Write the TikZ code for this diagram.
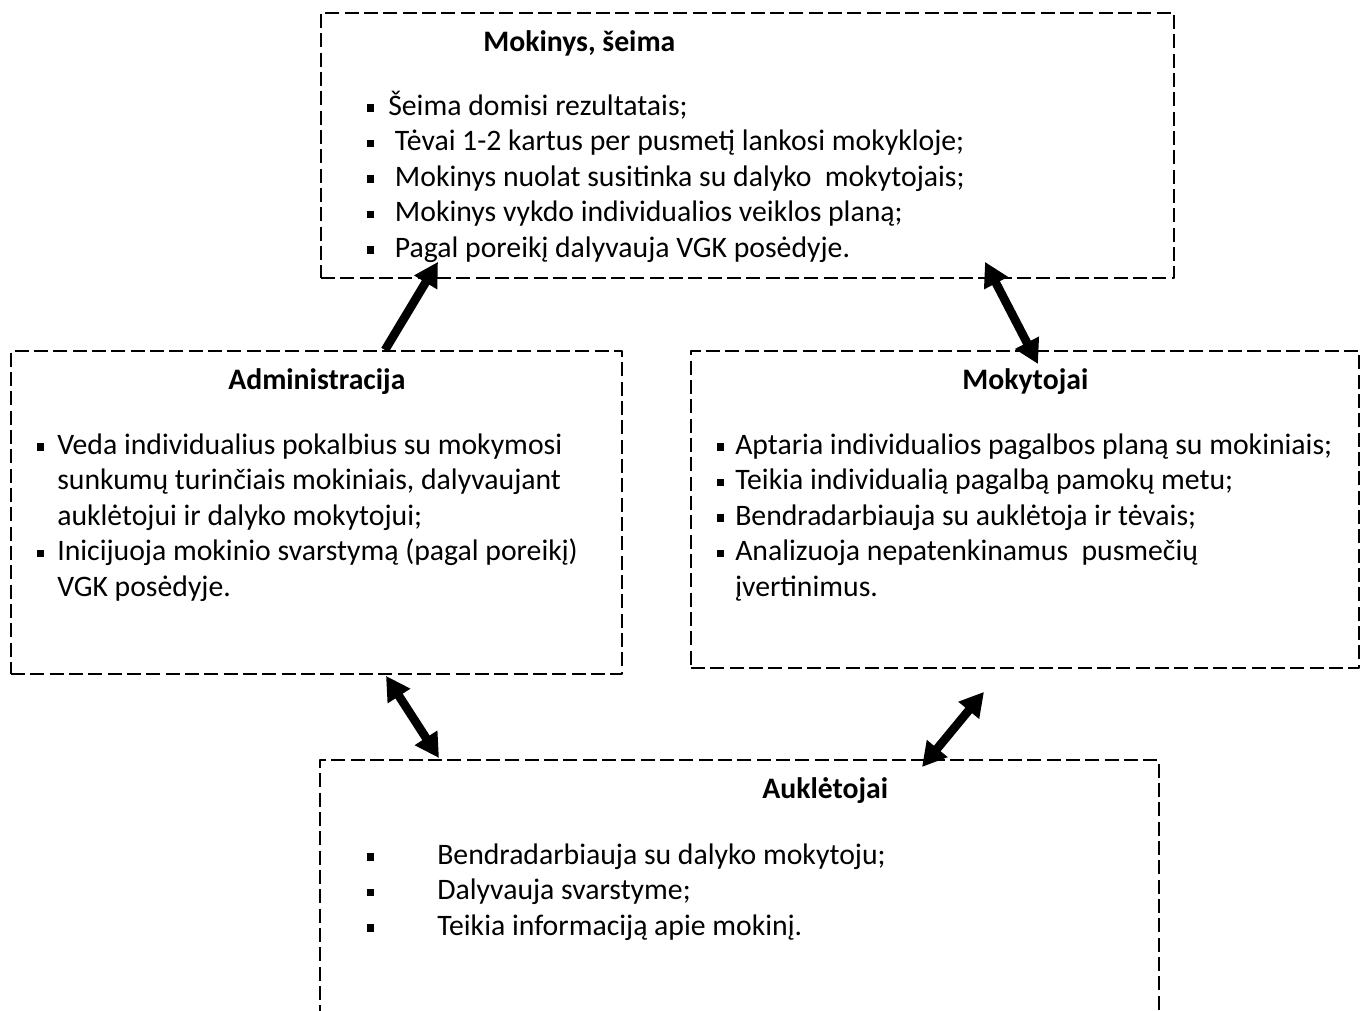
\documentclass[tikz,border=0pt]{standalone}
\usepackage{fontspec}
\setmainfont{Carlito}
\usetikzlibrary{arrows.meta,calc}
\newlength\pxu \setlength\pxu{0.75pt}
\newcommand\sqb{\rule[0.11em]{0.25em}{0.25em}}
\newcommand\bul[1]{\llap{\sqb\hspace{#1\pxu}}}
\begin{document}
\begin{tikzpicture}[x=0.75pt,y=-0.75pt,>={Triangle[length=18pt,width=19pt]}, line join=round,
    box/.style={draw, dash pattern=on 10.5pt off 4pt, line width=1.4pt, anchor=north west, inner sep=0pt},
    title/.style={font=\fontsize{22.3}{26.6}\selectfont\bfseries, anchor=mid west, inner sep=0pt},
    item/.style={font=\fontsize{22.3}{26.6}\selectfont, anchor=mid west, inner sep=0pt},
    link/.style={line width=6.5pt}]
    \useasboundingbox (0,0) rectangle (1365,1011);
    % langeliai
    \node[box, minimum width=853\pxu, minimum height=265\pxu] (mok) at (320,12) {};
    \node[box, minimum width=611\pxu, minimum height=323\pxu] (adm) at (10,350) {};
    \node[box, minimum width=668\pxu, minimum height=317\pxu] (mkt) at (690,350) {};
    \node[box, minimum width=839\pxu, minimum height=300\pxu] (auk) at (319,759) {};
    % antraštės
    \node[title] (mokT) at (483,48) {Mokinys, šeima};
    \node[title] (admT) at (228,386) {Administracija};
    \node[title] (mktT) at (962,386) {Mokytojai};
    \node[title] (aukT) at (762,795) {Auklėtojai};
    % sąrašai
    \foreach \t [count=\i] in {{\bul{14}Šeima domisi rezultatais;},
        {\bul{14}\ Tėvai 1-2 kartus per pusmetį lankosi mokykloje;},
        {\bul{14}\ Mokinys nuolat susitinka su dalyko\ \ mokytojais;},
        {\bul{14}\ Mokinys vykdo individualios veiklos planą;},
        {\bul{14}\ Pagal poreikį dalyvauja VGK posėdyje.}}
        \node[item] (mok\i) at (388,{112+35.5*(\i-1)}) {\t};
    \foreach \t [count=\i] in {{\bul{13}Veda individualius pokalbius su mokymosi},
        {sunkumų turinčiais mokiniais, dalyvaujant},
        {auklėtojui ir dalyko mokytojui;},
        {\bul{13}Inicijuoja mokinio svarstymą (pagal poreikį)},
        {VGK posėdyje.}}
        \node[item] (adm\i) at (57,{451+35.5*(\i-1)}) {\t};
    \foreach \t [count=\i] in {{\bul{11}Aptaria individualios pagalbos planą su mokiniais;},
        {\bul{11}Teikia individualią pagalbą pamokų metu;},
        {\bul{11}Bendradarbiauja su auklėtoja ir tėvais;},
        {\bul{11}Analizuoja nepatenkinamus\ \ pusmečių},
        {įvertinimus.}}
        \node[item] (mkt\i) at (735,{451+35.5*(\i-1)}) {\t};
    \foreach \t [count=\i] in {{\bul{63}Bendradarbiauja su dalyko mokytoju;},
        {\bul{63}Dalyvauja svarstyme;},
        {\bul{63}Teikia informaciją apie mokinį.}}
        \node[item] (auk\i) at (437,{861+35.5*(\i-1)}) {\t};
    % rodyklės
    \draw[link,->] ($(adm.north west)+(375,0)$) -- ($(mok.south west)+(118,-17)$);
    \draw[link,<->] ($(mok.south west)+(665,-17)$) -- ($(mkt.north west)+(348,14)$);
    \draw[link,<->] ($(adm.south west)+(376,1)$) -- ($(auk.north west)+(120,-1)$);
    \draw[link,<->] ($(mkt.south west)+(294,23)$) -- ($(auk.north west)+(603,8)$);
\end{tikzpicture}
\end{document}
